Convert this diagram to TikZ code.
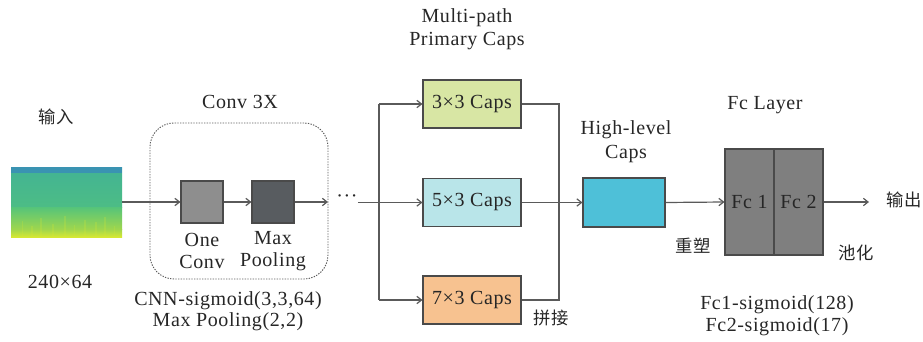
\documentclass[tikz,border=0pt]{standalone}
\usepackage{fontspec}
\setmainfont{Liberation Serif}[LetterSpace=3]
\newfontfamily\cjk{Noto Sans CJK SC}
\usetikzlibrary{arrows.meta}
\definecolor{txt}{HTML}{262626}
\definecolor{wire}{HTML}{5A5A5A}
\definecolor{edge}{HTML}{4A4A4A}
\definecolor{convc}{HTML}{8E8E8E}
\definecolor{poolc}{HTML}{585C60}
\definecolor{capA}{HTML}{D8E6A4}
\definecolor{capB}{HTML}{B9E5E9}
\definecolor{capC}{HTML}{F7C290}
\definecolor{hlc}{HTML}{4EC0D8}
\definecolor{fcc}{HTML}{7F7F7F}
\definecolor{inTop}{HTML}{3A93B2}
\definecolor{inA}{HTML}{42B394}
\definecolor{inB}{HTML}{55C47A}
\definecolor{inC}{HTML}{9ED64E}
\definecolor{inY}{HTML}{D6E832}
\begin{document}
\begin{tikzpicture}[x=0.75pt,y=-0.75pt,
  lbl/.style={font=\fontsize{15}{16}\selectfont, text=txt, inner sep=0pt},
  cjkl/.style={font=\cjk\fontsize{13}{15}\selectfont, text=txt, inner sep=0pt},
  box/.style={draw=edge, line width=0.8pt, inner sep=0pt},
  conn/.style={draw=wire, line width=0.9pt},
  arr/.style={conn, -{Straight Barb[length=3.5pt,width=5.5pt]}}
]
\useasboundingbox (0,0) rectangle (923,342);

% input
\node (in) [inner sep=0pt, minimum width=83.25pt, minimum height=52.5pt,
  path picture={
    \shade[top color=inA, bottom color=inB]
      (path picture bounding box.north west) rectangle ([yshift=-30pt]path picture bounding box.north east);
    \shade[top color=inB, bottom color=inC]
      ([yshift=-30pt]path picture bounding box.north west) rectangle ([yshift=6pt]path picture bounding box.south east);
    \shade[top color=inC, bottom color=inY]
      ([yshift=6pt]path picture bounding box.south west) rectangle (path picture bounding box.south east);
    \fill[inTop] (path picture bounding box.north west) rectangle ([yshift=-4.5pt]path picture bounding box.north east);
    \foreach \sx/\sh in {8/12,15/8,22/14,31/10,40/16,47/9,55/13,63/11,70/15,77/8}{
      \fill[inY, opacity=0.22] ([xshift=\sx pt]path picture bounding box.south west) rectangle ++(1.2pt,\sh pt);
    }
  }] at (66.5,202) {};
\node[cjkl] (inlbl) at (56,117) {输入};
\node[lbl] (insize) at (60,282) {240×64};

% conv block
\node (convbox) [draw=wire, line width=0.7pt, dash pattern=on 1pt off 1pt, rounded corners=18pt,
  minimum width=133.5pt, minimum height=117pt] at (239,201) {};
\node[lbl] (convt) at (240,102) {Conv 3X};
\node[box, fill=convc, minimum size=31.5pt] (oneconv) at (202,202) {};
\node[box, fill=poolc, minimum size=31.5pt] (maxpool) at (273,202) {};
\node[lbl, align=center, font=\fontsize{15}{17}\selectfont] (oclbl) at (202,251) {One\\Conv};
\node[lbl, align=center, font=\fontsize{15}{17}\selectfont] (mplbl) at (273,251) {Max\\Pooling};
\node[lbl, align=center, font=\fontsize{15}{15.5}\selectfont] (convcfg) at (228,311) {CNN-sigmoid(3,3,64)\\Max Pooling(2,2)};

\coordinate (convout) at (328,202);
\node[lbl] (dots) at (347,199) {···};
\coordinate (split) at (379,202);

\draw[arr] (in.east) -- (oneconv.west);
\draw[arr] (oneconv.east) -- (maxpool.west);
\draw[arr] (maxpool.east) -- (convout);

% primary caps
\node[lbl, align=center, font=\fontsize{15}{17}\selectfont] (mptitle) at (467,29) {Multi-path\\Primary Caps};
\node[box, fill=capA, minimum width=73.5pt, minimum height=36pt, lbl] (c3) at (472,104) {3×3 Caps};
\node[box, fill=capB, minimum width=73.5pt, minimum height=36pt, lbl] (c5) at (472,202.5) {5×3 Caps};
\node[box, fill=capC, minimum width=73.5pt, minimum height=36pt, lbl] (c7) at (472,300) {7×3 Caps};
\coordinate (splitT) at (379,104);
\coordinate (splitB) at (379,300);
\coordinate (mergeT) at (559,104);
\coordinate (mergeB) at (559,300);
\draw[conn] (splitT) -- (splitB);
\draw[arr] (dots.east |- c5.west) -- (c5.west);
\draw[arr] (splitT) -- (c3.west);
\draw[arr] (splitB) -- (c7.west);
\draw[conn] (c3.east) -- (mergeT) -- (mergeB) -- (c7.east);
\node[cjkl] (pinjie) at (551,318) {拼接};

% high-level caps
\node[lbl, align=center, font=\fontsize{15}{18}\selectfont] (hltitle) at (626,142) {High-level\\Caps};
\node[box, fill=hlc, minimum width=61.5pt, minimum height=36.75pt] (hl) at (624,202.5) {};
\draw[arr] (c5.east) -- (hl.west);
\node[cjkl] (chongsu) at (693,246) {重塑};

% fc layer
\node[lbl] (fctitle) at (765,105) {Fc Layer};
\node[box, fill=fcc, minimum width=36.75pt, minimum height=79.5pt, lbl] (fc1) at (749.5,202) {Fc 1};
\node[box, fill=fcc, minimum width=36.75pt, minimum height=79.5pt, lbl] (fc2) at (798.5,202) {Fc 2};
\draw[arr] (hl.east) -- (fc1.west);
\coordinate (outend) at (869,202);
\draw[arr] (fc2.east) -- (outend);
\node[cjkl] (outlbl) at (904,200) {输出};
\node[cjkl] (chihua) at (856,253) {池化};
\node[lbl, align=center, font=\fontsize{15}{16.5}\selectfont] (fccfg) at (777,316) {Fc1-sigmoid(128)\\Fc2-sigmoid(17)};
\end{tikzpicture}
\end{document}
